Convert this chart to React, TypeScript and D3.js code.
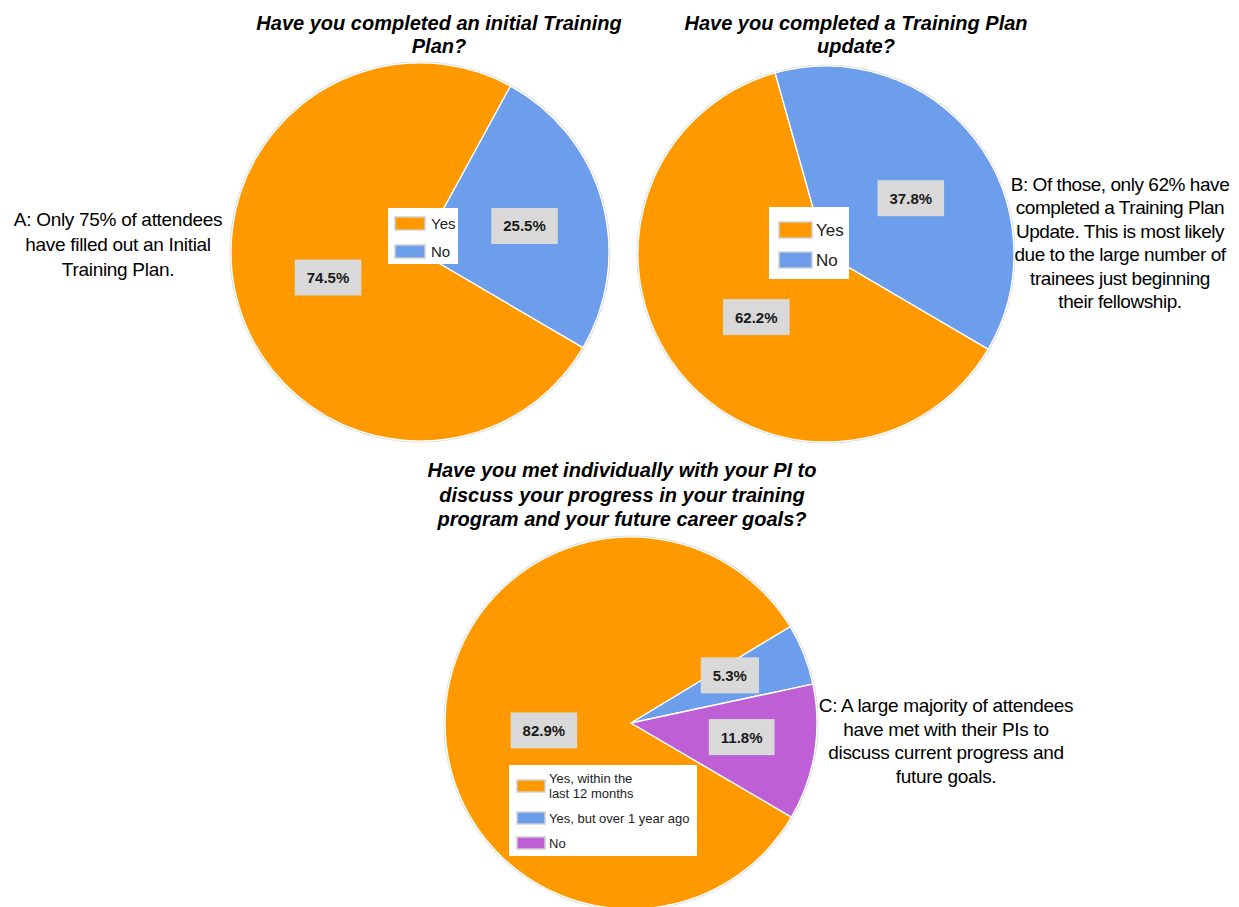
import React, { useRef, useEffect } from "react";
import * as d3 from "d3";

// ---------- DATA ----------
const pie1Categories = ["Yes", "No"];
const pie1Values = [74.5, 25.5];
const pie1Title = ["Have you completed an initial Training", "Plan?"];

const pie2Categories = ["Yes", "No"];
const pie2Values = [62.2, 37.8];
const pie2Title = ["Have you completed a Training Plan", "update?"];

const pie3Categories = ["Yes, within the last 12 months", "Yes, but over 1 year ago", "No"];
const pie3LegendLines = [["Yes, within the", "last 12 months"], ["Yes, but over 1 year ago"], ["No"]];
const pie3Values = [82.9, 5.3, 11.8];
const pie3Title = [
  "Have you met individually with your PI to",
  "discuss your progress in your training",
  "program and your future career goals?",
];

const noteA = ["A: Only 75% of attendees", "have filled out an Initial", "Training Plan."];
const noteB = [
  "B: Of those, only 62% have",
  "completed a Training Plan",
  "Update. This is most likely",
  "due to the large number of",
  "trainees just beginning",
  "their fellowship.",
];
const noteC = [
  "C: A large majority of attendees",
  "have met with their PIs to",
  "discuss current progress and",
  "future goals.",
];

// ---------- STYLE / LAYOUT ----------
const W = 1239;
const H = 907;
const COLORS = ["#ff9900", "#6d9eeb", "#bf5fd5"];
const FONT = "'Liberation Sans', Arial, Helvetica, sans-serif";
const START_DEG = 120.4;

type PieCfg = {
  categories: string[];
  legendLines: string[][];
  values: number[];
  title: string[];
  titleX: number;
  titleY: number;
  titleLH: number;
  cx: number;
  cy: number;
  r: number;
  labelFrac: number[];
  labelNudgeDeg: number[];
  legend: { x: number; y: number; w: number; h: number; sx: number; sw: number; sh: number; tx: number; fs: number; rowY: number[]; lh: number };
};

const charts: PieCfg[] = [
  {
    categories: pie1Categories,
    legendLines: pie1Categories.map((c) => [c]),
    values: pie1Values,
    title: pie1Title,
    titleX: 439,
    titleY: 30,
    titleLH: 23,
    cx: 420,
    cy: 252,
    r: 189,
    labelFrac: [0.505, 0.57],
    labelNudgeDeg: [0, 1.5],
    legend: { x: 388, y: 208, w: 70, h: 56, sx: 395, sw: 30, sh: 13, tx: 431, fs: 15, rowY: [217, 245], lh: 15 },
  },
  {
    categories: pie2Categories,
    legendLines: pie2Categories.map((c) => [c]),
    values: pie2Values,
    title: pie2Title,
    titleX: 856,
    titleY: 30,
    titleLH: 23,
    cx: 826,
    cy: 254,
    r: 188,
    labelFrac: [0.5, 0.54],
    labelNudgeDeg: [-4.5, 4.3],
    legend: { x: 769, y: 207, w: 80, h: 72, sx: 779, sw: 33, sh: 16, tx: 816, fs: 17, rowY: [222, 252], lh: 17 },
  },
  {
    categories: pie3Categories,
    legendLines: pie3LegendLines,
    values: pie3Values,
    title: pie3Title,
    titleX: 622,
    titleY: 477,
    titleLH: 24.5,
    cx: 631,
    cy: 723,
    r: 186,
    labelFrac: [0.47, 0.59, 0.6],
    labelNudgeDeg: [-4.5, -4.1, -1.9],
    legend: { x: 509, y: 765, w: 188, h: 91, sx: 517, sw: 28, sh: 12, tx: 549, fs: 13, rowY: [780, 812, 837], lh: 14.5 },
  },
];

const notes = [
  { lines: noteA, x: 118, y: 226, lh: 25, fs: 19, ls: -0.3 },
  { lines: noteB, x: 1120, y: 191, lh: 23.4, fs: 19, ls: -0.45 },
  { lines: noteC, x: 946, y: 712, lh: 23.5, fs: 19, ls: -0.3 },
];

export default function App() {
  const ref = useRef<SVGSVGElement | null>(null);

  useEffect(() => {
    const svg = d3.select(ref.current);
    svg.selectAll("*").remove();
    svg.append("rect").attr("width", W).attr("height", H).attr("fill", "#ffffff");

    const fmt = d3.format(".1f");

    charts.forEach((c) => {
      // Title
      const t = svg
        .append("text")
        .attr("x", c.titleX)
        .attr("y", c.titleY)
        .attr("text-anchor", "middle")
        .attr("font-family", FONT)
        .attr("font-size", 20)
        .attr("font-weight", "bold")
        .attr("font-style", "italic")
        .attr("fill", "#000");
      c.title.forEach((line, i) => {
        t.append("tspan").attr("x", c.titleX).attr("y", c.titleY + i * c.titleLH).text(line);
      });

      const start = (START_DEG * Math.PI) / 180;
      const pie = d3
        .pie<number>()
        .sort(null)
        .value((d) => d)
        .startAngle(start)
        .endAngle(start + 2 * Math.PI);
      const arcs = pie(c.values);
      const arc = d3.arc<d3.PieArcDatum<number>>().innerRadius(0).outerRadius(c.r);

      const g = svg.append("g").attr("transform", `translate(${c.cx},${c.cy})`);
      g.append("circle").attr("r", c.r + 0.8).attr("fill", "none").attr("stroke", "#dcdcdc").attr("stroke-width", 1.5);
      g.selectAll("path.slice")
        .data(arcs)
        .join("path")
        .attr("class", "slice")
        .attr("d", arc as any)
        .attr("fill", (_d, i) => COLORS[i])
        .attr("stroke", "#ffffff")
        .attr("stroke-width", 1.3)
        .attr("stroke-linejoin", "round");

      // Legend
      const L = c.legend;
      svg.append("rect").attr("x", L.x).attr("y", L.y).attr("width", L.w).attr("height", L.h).attr("fill", "#ffffff");
      c.categories.forEach((_cat, i) => {
        svg
          .append("rect")
          .attr("x", L.sx)
          .attr("y", L.rowY[i])
          .attr("width", L.sw)
          .attr("height", L.sh)
          .attr("fill", COLORS[i])
          .attr("stroke", "#cfcfcf")
          .attr("stroke-width", 1.5);
        const lines = c.legendLines[i];
        const txt = svg
          .append("text")
          .attr("font-family", FONT)
          .attr("font-size", L.fs)
          .attr("fill", "#222");
        const baseY = L.rowY[i] + L.sh / 2 + L.fs * 0.36 - ((lines.length - 1) * L.lh) / 2;
        lines.forEach((ln, j) => {
          txt.append("tspan").attr("x", L.tx).attr("y", baseY + j * L.lh).text(ln);
        });
      });

      // Labels
      arcs.forEach((a, i) => {
        const mid = (a.startAngle + a.endAngle) / 2 + (c.labelNudgeDeg[i] * Math.PI) / 180;
        const d = c.r * c.labelFrac[i];
        const x = c.cx + Math.sin(mid) * d;
        const y = c.cy - Math.cos(mid) * d;
        const lg = svg.append("g");
        const rect = lg.append("rect").attr("fill", "#d9d9d9");
        const tx = lg
          .append("text")
          .attr("x", x)
          .attr("y", y + 5.5)
          .attr("text-anchor", "middle")
          .attr("font-family", FONT)
          .attr("font-size", 15)
          .attr("font-weight", "bold")
          .attr("fill", "#1a1a1a")
          .text(fmt(a.data) + "%");
        const tw = (tx.node() as SVGTextElement).getComputedTextLength();
        const bw = tw + 24;
        const bh = 36;
        rect.attr("x", x - bw / 2).attr("y", y - bh / 2).attr("width", bw).attr("height", bh);
      });
    });

    // Notes
    notes.forEach((n) => {
      const t = svg
        .append("text")
        .attr("text-anchor", "middle")
        .attr("font-family", FONT)
        .attr("font-size", n.fs)
        .attr("letter-spacing", n.ls)
        .attr("fill", "#000");
      n.lines.forEach((ln, i) => {
        t.append("tspan").attr("x", n.x).attr("y", n.y + i * n.lh).text(ln);
      });
    });
  }, []);

  return (
    <svg
      ref={ref}
      width={W}
      height={H}
      style={{ position: "absolute", left: 0, top: 0, display: "block" }}
    />
  );
}
